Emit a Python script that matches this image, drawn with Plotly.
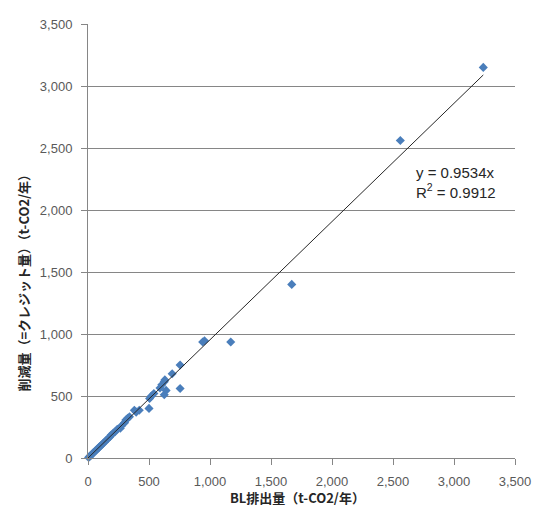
import plotly.graph_objects as go

# BL emissions vs. reductions (credit amount), t-CO2 per year
bl_emissions = [5, 12, 20, 28, 35, 45, 55, 62, 70, 80, 90, 100, 110, 120, 135, 150, 165,
                180, 190, 205, 220, 240, 265, 275, 300, 310, 325, 340, 380, 395, 420,
                500, 505, 520, 540, 590, 605, 625, 630, 625, 640, 690, 755, 755,
                940, 955, 1170, 1670, 2560, 3240]
reductions = [5, 11, 19, 26, 33, 43, 52, 59, 66, 76, 86, 95, 104, 114, 128, 143, 157,
              172, 185, 199, 210, 232, 240, 260, 285, 306, 320, 333, 385, 370, 385,
              400, 480, 500, 520, 565, 590, 615, 630, 510, 545, 680, 750, 560,
              935, 945, 935, 1400, 2560, 3150]

slope = 0.9534
r2 = 0.9912
fit_x = [0, max(bl_emissions)]
fit_y = [slope * v for v in fit_x]

tick_vals = [0, 500, 1000, 1500, 2000, 2500, 3000, 3500]
tick_text = ["0", "500", "1,000", "1,500", "2,000", "2,500", "3,000", "3,500"]

x_title = "BL排出量（t-CO2/年）"
y_title = "削減量（=クレジット量）（t-CO2/年）"

fig = go.Figure()
fig.add_trace(go.Scatter(
    x=bl_emissions, y=reductions, mode="markers",
    marker=dict(symbol="diamond", size=7, color="#4A7EBB"),
    showlegend=False, cliponaxis=False,
))
fig.add_trace(go.Scatter(
    x=fit_x, y=fit_y, mode="lines",
    line=dict(color="#262626", width=1),
    showlegend=False,
))

fig.add_annotation(
    x=0.763, y=0.683, xref="paper", yref="paper", xanchor="left", yanchor="top",
    text=f"y = {slope}x<br>R<sup>2</sup> = {r2}", showarrow=False, align="left",
    font=dict(family="Liberation Sans", size=15, color="#262626"),
)

title_font = dict(family="Noto Sans CJK JP", size=13, color="#262626")
fig.add_annotation(
    x=0.49, y=-0.09, xref="paper", yref="paper", xanchor="center", yanchor="middle",
    text=f"<b>{x_title}</b>", showarrow=False, font=title_font,
)
fig.add_annotation(
    x=-0.151, y=0.41, xref="paper", yref="paper", xanchor="center", yanchor="middle",
    text=f"<b>{y_title}</b>", showarrow=False, textangle=-90, font=title_font,
)

axis_common = dict(
    range=[0, 3500], tickvals=tick_vals, ticktext=tick_text,
    tickfont=dict(family="Liberation Sans", size=13, color="#595959"),
    linecolor="#868686", linewidth=1, ticks="outside", ticklen=6,
    tickcolor="#868686", zeroline=False, showline=True,
)

fig.update_xaxes(**axis_common, showgrid=False, ticklabelstandoff=5)
fig.update_yaxes(**axis_common, showgrid=True, gridcolor="#868686", gridwidth=1,
                 ticklabelstandoff=6)

fig.update_layout(
    width=543, height=506,
    margin=dict(l=88, r=17, t=24, b=48),
    plot_bgcolor="white", paper_bgcolor="white",
)

fig.write_html("out.html")
